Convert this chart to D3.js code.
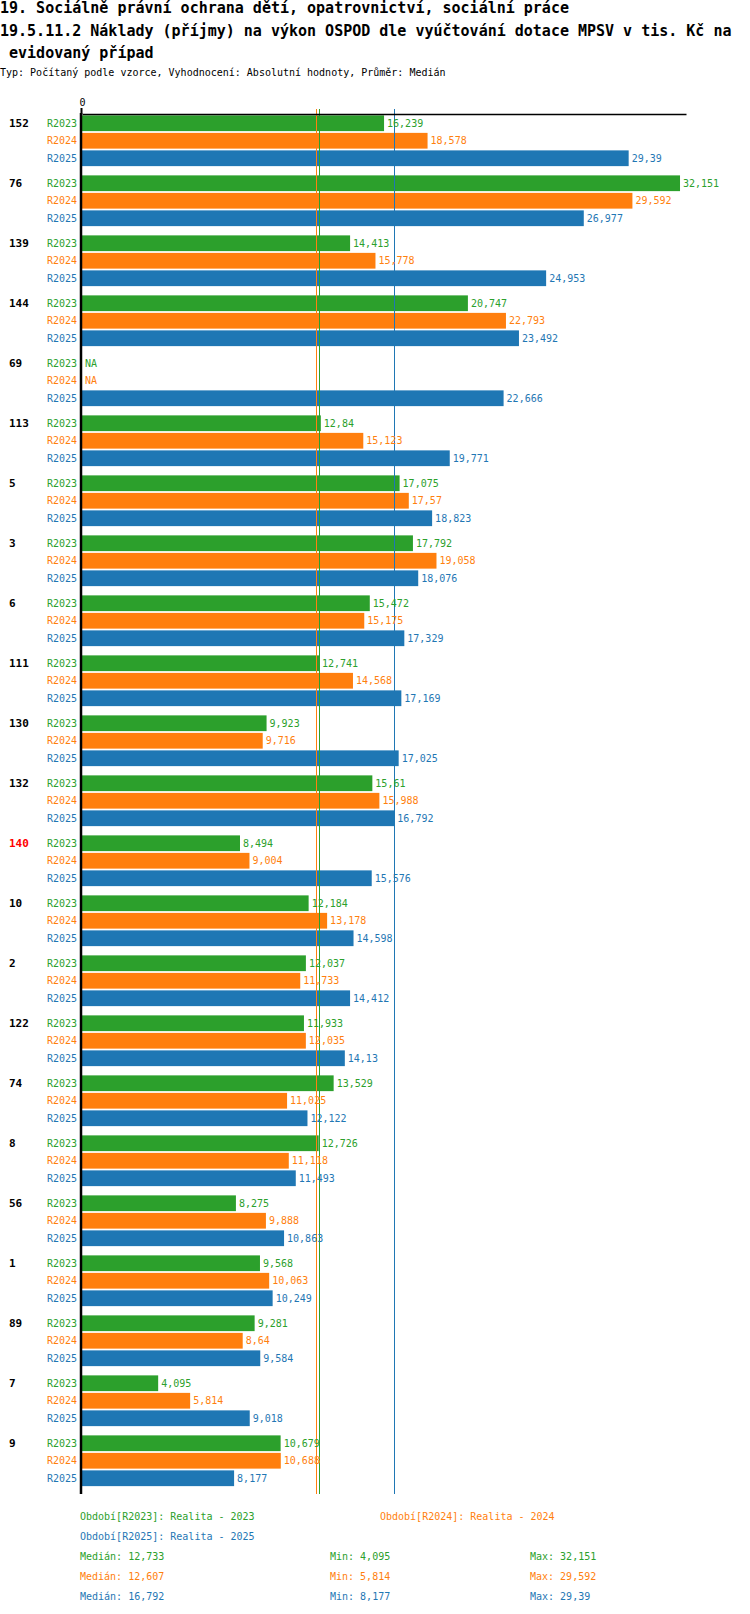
<!DOCTYPE html>
<html>
<head>
<meta charset="utf-8">
<script src="https://cdn.jsdelivr.net/npm/d3@7"></script>
<style>
  body { margin: 0; background: #fff; }
  text { font-family: "DejaVu Sans Mono", monospace; }
</style>
</head>
<body>
<script>
var groups = ["152", "76", "139", "144", "69", "113", "5", "3", "6", "111", "130", "132",
  "140", "10", "2", "122", "74", "8", "56", "1", "89", "7", "9"];

var series = ["R2023", "R2024", "R2025"];

var r2023 = [16.239, 32.151, 14.413, 20.747, null, 12.84, 17.075, 17.792, 15.472, 12.741, 9.923, 15.61,
  8.494, 12.184, 12.037, 11.933, 13.529, 12.726, 8.275, 9.568, 9.281, 4.095, 10.679];
var r2024 = [18.578, 29.592, 15.778, 22.793, null, 15.123, 17.57, 19.058, 15.175, 14.568, 9.716, 15.988,
  9.004, 13.178, 11.733, 12.035, 11.025, 11.118, 9.888, 10.063, 8.64, 5.814, 10.688];
var r2025 = [29.39, 26.977, 24.953, 23.492, 22.666, 19.771, 18.823, 18.076, 17.329, 17.169, 17.025, 16.792,
  15.576, 14.598, 14.412, 14.13, 12.122, 11.493, 10.863, 10.249, 9.584, 9.018, 8.177];

var periodNames = ["Realita - 2023", "Realita - 2024", "Realita - 2025"];
var highlighted = ["140"];

var colors = ["#2ca02c", "#ff7f0e", "#1f77b4"];
var values = [r2023, r2024, r2025];

var svg = d3.select("body").append("svg")
  .attr("width", 750)
  .attr("height", 1614);

// title
var titleLines = ["19. Sociálně právní ochrana dětí, opatrovnictví, sociální práce",
  "19.5.11.2 Náklady (příjmy) na výkon OSPOD dle vyúčtování dotace MPSV v tis. Kč na",
  " evidovaný případ"];
titleLines.forEach(function (t, i) {
  svg.append("text")
    .attr("x", 0).attr("y", 13 + i * 22.5)
    .attr("xml:space", "preserve")
    .style("font-size", "15px").style("font-weight", "bold")
    .text(t);
});
svg.append("text")
  .attr("x", 0).attr("y", 76)
  .style("font-size", "10px")
  .text("Typ: Počítaný podle vzorce, Vyhodnocení: Absolutní hodnoty, Průměr: Medián");

var all = r2023.concat(r2024, r2025).filter(function (v) { return v != null; });
var maxVal = d3.max(all);

var x = d3.scaleLinear().domain([0, maxVal * 1.01]).range([82, 686]);
var y0 = d3.scaleBand().domain(groups).range([114, 114 + 60 * groups.length]);
var y1 = d3.scaleBand().domain(series).range([0.5, 53]).paddingInner(0.1).paddingOuter(0.05);

// czech style: decimal comma, max 3 decimals
var fmt = function (v) { return String(+v.toFixed(3)).replace(".", ","); };

var rows = [];
groups.forEach(function (g, i) {
  series.forEach(function (s, j) {
    rows.push({ group: g, s: s, j: j, v: values[j][i] });
  });
});

// bars
svg.append("g").selectAll("rect")
  .data(rows.filter(function (d) { return d.v != null; }))
  .join("rect")
  .attr("x", x(0))
  .attr("y", function (d) { return y0(d.group) + y1(d.s); })
  .attr("width", function (d) { return x(d.v) - x(0); })
  .attr("height", y1.bandwidth())
  .attr("fill", function (d) { return colors[d.j]; });

// medians
var valid = function (arr) { return arr.filter(function (v) { return v != null; }); };
var medians = values.map(function (arr) { return d3.median(valid(arr)); });
var mins = values.map(function (arr) { return d3.min(valid(arr)); });
var maxs = values.map(function (arr) { return d3.max(valid(arr)); });

var yEnd = y0.range()[1];
medians.forEach(function (m, j) {
  svg.append("line")
    .attr("x1", Math.round(x(m)) + 0.5).attr("x2", Math.round(x(m)) + 0.5)
    .attr("y1", 109).attr("y2", yEnd)
    .attr("stroke", colors[j]).attr("stroke-width", 1);
});

// value labels
svg.append("g").selectAll("text")
  .data(rows)
  .join("text")
  .attr("x", function (d) { return (d.v == null ? x(0) : x(d.v)) + 3; })
  .attr("y", function (d) { return y0(d.group) + y1(d.s) + y1.bandwidth() / 2; })
  .attr("dy", "0.35em")
  .style("font-size", "10px")
  .attr("fill", function (d) { return colors[d.j]; })
  .text(function (d) { return d.v == null ? "NA" : fmt(d.v); });

// series labels
svg.append("g").selectAll("text")
  .data(rows)
  .join("text")
  .attr("x", 77)
  .attr("y", function (d) { return y0(d.group) + y1(d.s) + y1.bandwidth() / 2; })
  .attr("dy", "0.35em")
  .attr("text-anchor", "end")
  .style("font-size", "10px")
  .attr("fill", function (d) { return colors[d.j]; })
  .text(function (d) { return d.s; });

// group labels
svg.append("g").selectAll("text")
  .data(groups)
  .join("text")
  .attr("x", 9)
  .attr("y", function (g) { return y0(g) + y1("R2023") + y1.bandwidth() / 2; })
  .attr("dy", "0.35em")
  .style("font-size", "11px").style("font-weight", "bold")
  .attr("fill", function (g) { return highlighted.indexOf(g) >= 0 ? "#ff0000" : "#000"; })
  .text(function (g) { return g; });

// axes
var xAxis = svg.append("g")
  .attr("transform", "translate(0,114)")
  .call(d3.axisTop(x).tickValues([0]).tickSize(6).tickSizeOuter(0));
xAxis.select(".domain").attr("stroke", "#000").attr("stroke-width", 1.5);
xAxis.selectAll(".tick line").attr("stroke-width", 2).attr("transform", "translate(-1,0)");
xAxis.selectAll(".tick text")
  .style("font-family", "DejaVu Sans Mono").style("font-size", "10px").attr("dy", "0.1em");

svg.append("line")
  .attr("x1", 81).attr("x2", 81)
  .attr("y1", 113).attr("y2", yEnd)
  .attr("stroke", "#000").attr("stroke-width", 2.5);

// legend
var legX = [80, 380, 80];
var legY = [1520, 1520, 1540];
series.forEach(function (s, j) {
  svg.append("text")
    .attr("x", legX[j]).attr("y", legY[j])
    .style("font-size", "10px").attr("fill", colors[j])
    .text("Období[" + s + "]: " + periodNames[j]);
});
series.forEach(function (s, j) {
  var yy = 1560 + j * 20;
  svg.append("text").attr("x", 80).attr("y", yy)
    .style("font-size", "10px").attr("fill", colors[j])
    .text("Medián: " + fmt(medians[j]));
  svg.append("text").attr("x", 330).attr("y", yy)
    .style("font-size", "10px").attr("fill", colors[j])
    .text("Min: " + fmt(mins[j]));
  svg.append("text").attr("x", 530).attr("y", yy)
    .style("font-size", "10px").attr("fill", colors[j])
    .text("Max: " + fmt(maxs[j]));
});
</script>
</body>
</html>
